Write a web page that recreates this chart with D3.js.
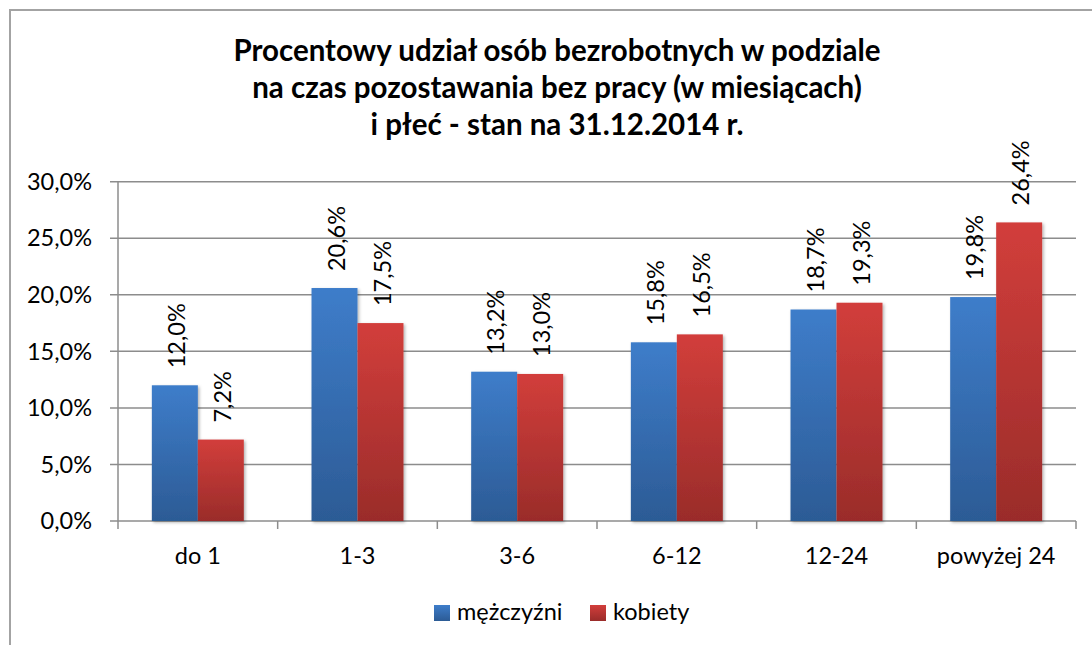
<!DOCTYPE html>
<html>
<head>
<meta charset="utf-8">
<script src="https://cdn.jsdelivr.net/npm/d3@7"></script>
<style>
  body { margin: 0; background: #fff; }
  text { font-family: Lato, "Open Sans", sans-serif; fill: #000; }
</style>
</head>
<body>
<svg id="canvas" width="1092" height="645"></svg>
<script>
const titleLines = [
    "Procentowy udział osób bezrobotnych w podziale",
    "na czas pozostawania bez pracy (w miesiącach)",
    "i płeć - stan na 31.12.2014 r."
];
const categories = ["do 1", "1-3", "3-6", "6-12", "12-24", "powyżej 24"];
const seriesNames = ["mężczyźni", "kobiety"];
const men = [12.0, 20.6, 13.2, 15.8, 18.7, 19.8];
const women = [7.2, 17.5, 13.0, 16.5, 19.3, 26.4];
const yTicks = [0, 5, 10, 15, 20, 25, 30];

const colors = [
    { top: "#3e7dca", bottom: "#2c5b95" },
    { top: "#d23e3b", bottom: "#9a2c2a" }
];

const canvas = d3.select("#canvas");
const fmt = (v) => v.toFixed(1).replace(".", ",") + "%";
const fontSize = 23.5;

// gradients + shadow
const defs = canvas.append("defs");
colors.forEach((c, i) => {
    const g = defs.append("linearGradient")
        .attr("id", "grad" + i)
        .attr("x1", 0).attr("y1", 0).attr("x2", 0).attr("y2", 1);
    g.append("stop").attr("offset", "0%").attr("stop-color", c.top);
    g.append("stop").attr("offset", "100%").attr("stop-color", c.bottom);
});
const shadow = defs.append("filter").attr("id", "shadow")
    .attr("x", "-20%").attr("y", "-10%").attr("width", "150%").attr("height", "130%");
shadow.append("feDropShadow")
    .attr("dx", 1.5).attr("dy", 1.5).attr("stdDeviation", 1.5)
    .attr("flood-color", "#000").attr("flood-opacity", 0.3);

// outer frame
canvas.append("rect")
    .attr("x", 10).attr("y", 10)
    .attr("width", 1100).attr("height", 660)
    .attr("fill", "none")
    .attr("stroke", "#a3a3a3")
    .attr("stroke-width", 2);

// title
const title = canvas.append("text")
    .attr("text-anchor", "middle")
    .attr("font-weight", "bold")
    .attr("font-size", 29.5);
titleLines.forEach((line, i) => {
    title.append("tspan")
        .attr("x", 557)
        .attr("y", 61 + i * 37)
        .text(line);
});

const plotLeft = 118, plotRight = 1076, plotTop = 181.7, plotBottom = 521;

const x = d3.scaleBand().domain(categories).range([plotLeft, plotRight]);
const y = d3.scaleLinear().domain([0, 30]).range([plotBottom, plotTop]);
const barW = x.bandwidth() * 0.288;

// gridlines
canvas.append("g")
    .selectAll("line")
    .data(yTicks)
    .enter()
    .append("line")
    .attr("x1", plotLeft - 8)
    .attr("x2", plotRight)
    .attr("y1", (d) => y(d))
    .attr("y2", (d) => y(d))
    .attr("stroke", "#8c8c8c")
    .attr("stroke-width", 1.5);

// y axis line
canvas.append("line")
    .attr("x1", plotLeft).attr("x2", plotLeft)
    .attr("y1", plotTop).attr("y2", plotBottom)
    .attr("stroke", "#8c8c8c").attr("stroke-width", 1.5);

// x ticks at band boundaries
const bounds = categories.map((c) => x(c)).concat([plotRight]);
canvas.append("g")
    .selectAll("line")
    .data(bounds)
    .enter()
    .append("line")
    .attr("x1", (d) => d).attr("x2", (d) => d)
    .attr("y1", plotBottom).attr("y2", plotBottom + 8)
    .attr("stroke", "#8c8c8c").attr("stroke-width", 1.5);

// y tick labels
canvas.append("g")
    .selectAll("text")
    .data(yTicks)
    .enter()
    .append("text")
    .attr("x", 92)
    .attr("y", (d) => y(d))
    .attr("dy", "0.35em")
    .attr("text-anchor", "end")
    .attr("font-size", fontSize)
    .text((d) => fmt(d));

// x labels
canvas.append("g")
    .selectAll("text")
    .data(categories)
    .enter()
    .append("text")
    .attr("x", (d) => x(d) + x.bandwidth() / 2)
    .attr("y", 564)
    .attr("text-anchor", "middle")
    .attr("font-size", fontSize)
    .text((d) => d);

// bars
[men, women].forEach((series, si) => {
    const g = canvas.append("g");
    g.selectAll("rect")
        .data(series)
        .enter()
        .append("rect")
        .attr("x", (d, i) => x(categories[i]) + x.bandwidth() / 2 - barW + si * barW)
        .attr("y", (d) => y(d))
        .attr("width", barW)
        .attr("height", (d) => plotBottom - y(d))
        .attr("fill", "url(#grad" + si + ")")
        .attr("filter", "url(#shadow)");

    g.selectAll("text")
        .data(series)
        .enter()
        .append("text")
        .attr("transform", (d, i) => {
            const cx = x(categories[i]) + x.bandwidth() / 2 - barW / 2 + si * barW + 2;
            return `translate(${cx},${y(d) - 17}) rotate(-90)`;
        })
        .attr("dy", "0.35em")
        .attr("font-size", fontSize)
        .text((d) => fmt(d));
});

// legend
const legend = canvas.append("g");
const legendX = [434, 590];
seriesNames.forEach((name, i) => {
    legend.append("rect")
        .attr("x", legendX[i]).attr("y", 605)
        .attr("width", 16).attr("height", 16)
        .attr("fill", "url(#grad" + i + ")");
    legend.append("text")
        .attr("x", legendX[i] + 23)
        .attr("y", 620)
        .attr("font-size", fontSize)
        .text(name);
});
</script>
</body>
</html>
